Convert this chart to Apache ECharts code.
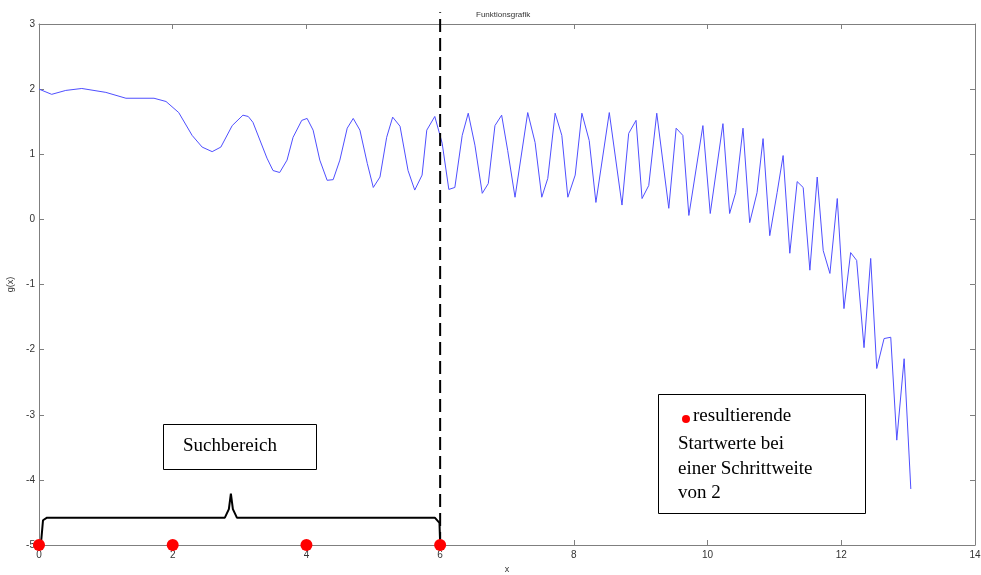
<!DOCTYPE html>
<html>
<head>
<meta charset="utf-8">
<title>Funktionsgrafik</title>
<script src="https://cdn.jsdelivr.net/npm/echarts@6/dist/echarts.min.js"></script>
<style>
  html, body { margin: 0; padding: 0; background: #fff; }
  #chart { width: 981px; height: 575px; }
</style>
</head>
<body>
<div id="chart"></div>
<script>
// g(x) vertices
const curveX = [
  0, 0.19, 0.40, 0.64, 1.00, 1.30, 1.72, 1.90, 2.09, 2.29, 2.44, 2.59, 2.72, 2.89, 3.05, 3.13, 3.20,
  3.41, 3.50, 3.60, 3.71, 3.80, 3.93, 4.01, 4.10, 4.20, 4.31, 4.40, 4.50, 4.61, 4.70, 4.80,
  4.91, 5.00, 5.10, 5.20, 5.29, 5.40, 5.52, 5.62, 5.73, 5.80, 5.92, 6.03, 6.13, 6.22, 6.33,
  6.42, 6.52, 6.63, 6.72, 6.82, 6.92, 7.01, 7.12, 7.31, 7.42, 7.52, 7.61, 7.72, 7.82, 7.91,
  8.02, 8.12, 8.23, 8.33, 8.53, 8.72, 8.82, 8.93, 9.02, 9.12, 9.24, 9.42, 9.53, 9.63, 9.72,
  9.93, 10.04, 10.23, 10.33, 10.42, 10.53, 10.63, 10.74, 10.83, 10.93, 11.04, 11.13, 11.23,
  11.34, 11.43, 11.53, 11.64, 11.73, 11.83, 11.94, 12.04, 12.14, 12.23, 12.34, 12.44, 12.53,
  12.64, 12.74, 12.83, 12.94, 13.04
];
const curveY = [
  2.00, 1.92, 1.98, 2.01, 1.95, 1.86, 1.86, 1.81, 1.64, 1.29, 1.11, 1.04, 1.11, 1.44, 1.60, 1.58, 1.49,
  0.94, 0.75, 0.72, 0.91, 1.26, 1.52, 1.55, 1.37, 0.91, 0.60, 0.61, 0.91, 1.40, 1.55, 1.37,
  0.86, 0.49, 0.65, 1.26, 1.57, 1.43, 0.75, 0.45, 0.68, 1.37, 1.58, 1.17, 0.46, 0.49, 1.29,
  1.63, 1.14, 0.40, 0.55, 1.44, 1.60, 1.06, 0.34, 1.64, 1.18, 0.34, 0.63, 1.63, 1.29, 0.34,
  0.68, 1.63, 1.21, 0.26, 1.64, 0.22, 1.32, 1.52, 0.32, 0.52, 1.63, 0.17, 1.40, 1.29, 0.06,
  1.44, 0.09, 1.47, 0.09, 0.41, 1.40, -0.05, 0.41, 1.24, -0.25, 0.41, 0.98, -0.52,
  0.58, 0.49, -0.78, 0.65, -0.48, -0.83, 0.32, -1.37, -0.51, -0.63, -1.97, -0.60, -2.29,
  -1.83, -1.81, -3.39, -2.14, -4.14
];

// start values with step width 2
const startX = [0, 2, 4, 6];
const startY = [-5, -5, -5, -5];

// search range boundary
const boundX = [6, 6];
const boundY = [-5, 3.18];

// curly brace over the search range
const braceX = [0.03, 0.06, 0.12, 2.78, 2.84, 2.87, 2.90, 2.96, 5.92, 5.99, 6.0];
const braceY = [-4.97, -4.62, -4.58, -4.58, -4.45, -4.21, -4.45, -4.58, -4.58, -4.66, -4.97];

const xTicks = [0, 14, 2];
const yTicks = [-5, 3, 1];

const zip = (a, b) => a.map((v, i) => [v, b[i]]);

const chart = echarts.init(document.getElementById('chart'));

const axisGray = '#7f7f7f';
const labelStyle = { color: '#333', fontSize: 10, fontFamily: 'Arial, "Liberation Sans", sans-serif' };

const boxAxis = (extra) => Object.assign({
  type: 'value',
  axisLine: { show: true, onZero: false, lineStyle: { color: axisGray, width: 1 } },
  axisTick: { show: true, inside: true, length: 5, lineStyle: { color: axisGray } },
  splitLine: { show: false }
}, extra);

chart.setOption({
  animation: false,
  backgroundColor: '#fff',
  title: {
    text: 'Funktionsgrafik',
    left: 471, top: 6,
    textStyle: { fontSize: 8, fontWeight: 'normal', color: '#333', fontFamily: 'Arial, "Liberation Sans", sans-serif' }
  },
  grid: { left: 39, right: 6, top: 24, bottom: 30, outerBoundsMode: 'none', containLabel: false },
  xAxis: [
    boxAxis({
      min: xTicks[0], max: xTicks[1], interval: xTicks[2], position: 'bottom',
      axisLabel: Object.assign({ margin: 5 }, labelStyle),
      name: 'x', nameLocation: 'middle', nameGap: 17,
      nameTextStyle: Object.assign({}, labelStyle, { fontSize: 9 })
    }),
    boxAxis({
      min: xTicks[0], max: xTicks[1], interval: xTicks[2], position: 'top',
      axisLabel: { show: false }
    })
  ],
  yAxis: [
    boxAxis({
      min: yTicks[0], max: yTicks[1], interval: yTicks[2], position: 'left',
      axisLabel: Object.assign({ margin: 4 }, labelStyle),
      name: 'g(x)', nameLocation: 'middle', nameGap: 24, nameRotate: 90,
      nameTextStyle: Object.assign({}, labelStyle, { fontSize: 9 })
    }),
    boxAxis({
      min: yTicks[0], max: yTicks[1], interval: yTicks[2], position: 'right',
      axisLabel: { show: false }
    })
  ],
  series: [
    {
      type: 'line',
      data: zip(curveX, curveY),
      showSymbol: false,
      lineStyle: { color: '#4f4fff', width: 1 },
      z: 3
    },
    {
      type: 'line',
      data: zip(boundX, boundY),
      showSymbol: false,
      clip: false,
      lineStyle: { color: '#000', width: 2, type: [13, 6] },
      z: 4
    },
    {
      type: 'line',
      data: zip(braceX, braceY),
      showSymbol: false,
      clip: false,
      lineStyle: { color: '#000', width: 2 },
      z: 4
    },
    {
      type: 'scatter',
      data: zip(startX, startY),
      symbolSize: 12,
      clip: false,
      itemStyle: { color: '#ff0000', opacity: 1 },
      z: 5
    }
  ],
  graphic: [
    {
      type: 'rect', left: 163, top: 424, z: 10,
      shape: { width: 153, height: 45 },
      style: { fill: '#fff', stroke: '#000', lineWidth: 1 }
    },
    {
      type: 'text', left: 183, top: 437, z: 11,
      style: { text: 'Suchbereich', fill: '#000', font: '19px "Liberation Serif", "Times New Roman", serif' }
    },
    {
      type: 'rect', left: 658, top: 394, z: 10,
      shape: { width: 207, height: 119 },
      style: { fill: '#fff', stroke: '#000', lineWidth: 1 }
    },
    {
      type: 'circle', z: 11,
      shape: { cx: 686, cy: 419, r: 4 },
      style: { fill: '#ff0000' }
    },
    {
      type: 'text', left: 693, top: 407, z: 11,
      style: { text: 'resultierende', fill: '#000', font: '19px "Liberation Serif", "Times New Roman", serif' }
    },
    {
      type: 'text', left: 678, top: 432, z: 11,
      style: {
        text: 'Startwerte bei\neiner Schrittweite\nvon 2',
        fill: '#000', lineHeight: 24.5,
        font: '19px "Liberation Serif", "Times New Roman", serif'
      }
    }
  ]
});
</script>
</body>
</html>
